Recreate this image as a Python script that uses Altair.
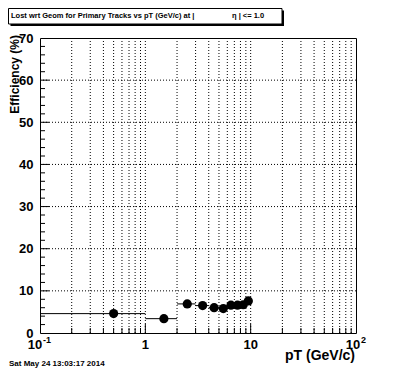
import altair as alt
import pandas as pd

# ---- data ----
pt_center = [0.5, 1.5, 2.5, 3.5, 4.5, 5.5, 6.5, 7.5, 8.5, 9.5]
pt_low = [0.1, 1, 2, 3, 4, 5, 6, 7, 8, 9]
pt_high = [1, 2, 3, 4, 5, 6, 7, 8, 9, 10]
efficiency = [4.6, 3.4, 6.9, 6.5, 6.0, 5.8, 6.6, 6.6, 6.7, 7.6]

y_labels = [0, 10, 20, 30, 40, 50, 60, 70]
y_grid = [10, 20, 30, 40, 50, 60]
y_minor = [v for v in range(2, 70, 2) if v % 10 != 0]
x_grid = [0.2, 0.3, 0.4, 0.5, 0.6, 0.7, 0.8, 0.9, 1, 2, 3, 4, 5, 6, 7, 8, 9,
          10, 20, 30, 40, 50, 60, 70, 80, 90]
x_major = [1, 10]
x_minor = [v for v in x_grid if v not in x_major]
x_label_vals = [1, 10]
x_label_text = ["1", "10"]

title_text = "Lost wrt Geom for Primary Tracks vs pT (GeV/c) at |"
title_text2 = "\u03b7 | <= 1.0"
x_title = "pT (GeV/c)"
y_title = "Efficiency (%)"
date_text = "Sat May 24 13:03:17 2014"

W, H = 316, 295
FONT = "Liberation Sans"

xs = alt.Scale(type="log", domain=[0.1, 100], nice=False)
ys = alt.Scale(domain=[0, 70], nice=False, zero=False)
yaxis = alt.Axis(values=y_labels, ticks=False, domain=False, grid=False, title=None,
                 labelFont=FONT, labelFontWeight="bold", labelFontSize=13,
                 labelColor="black", labelPadding=7)

pts = pd.DataFrame({"pt": pt_center, "lo": pt_low, "hi": pt_high, "eff": efficiency})
one = pd.DataFrame({"a": [0]})

grid_x = alt.Chart(pd.DataFrame({"v": x_grid})).mark_rule(
    color="black", strokeWidth=1, strokeDash=[1, 2]).encode(
    x=alt.X("v:Q", scale=xs, axis=None))
grid_y = alt.Chart(pd.DataFrame({"v": y_grid})).mark_rule(
    color="black", strokeWidth=1, strokeDash=[1, 2]).encode(
    y=alt.Y("v:Q", scale=ys, axis=yaxis))

tick_x_major = alt.Chart(pd.DataFrame({"v": x_major})).mark_rule(color="black").encode(
    x=alt.X("v:Q", scale=xs, axis=None), y=alt.value(H), y2=alt.value(H - 9))
tick_x_minor = alt.Chart(pd.DataFrame({"v": x_minor})).mark_rule(color="black").encode(
    x=alt.X("v:Q", scale=xs, axis=None), y=alt.value(H), y2=alt.value(H - 5))
tick_y_major = alt.Chart(pd.DataFrame({"v": y_grid})).mark_rule(color="black").encode(
    y=alt.Y("v:Q", scale=ys, axis=yaxis), x=alt.value(0), x2=alt.value(9))
tick_y_minor = alt.Chart(pd.DataFrame({"v": y_minor})).mark_rule(color="black").encode(
    y=alt.Y("v:Q", scale=ys, axis=yaxis), x=alt.value(0), x2=alt.value(5))

errbars = alt.Chart(pts).mark_rule(color="black", strokeWidth=1).encode(
    x=alt.X("lo:Q", scale=xs, axis=None), x2="hi:Q",
    y=alt.Y("eff:Q", scale=ys, axis=yaxis))
points = alt.Chart(pts).mark_point(filled=True, shape="circle", size=85,
                                   color="black", opacity=1).encode(
    x=alt.X("pt:Q", scale=xs, axis=None),
    y=alt.Y("eff:Q", scale=ys, axis=yaxis))

lab_style = dict(font=FONT, fontWeight="bold", fontSize=13, color="black",
                 baseline="middle")
xlabels = alt.Chart(pd.DataFrame({"v": x_label_vals, "t": x_label_text})).mark_text(
    align="center", **lab_style).encode(
    x=alt.X("v:Q", scale=xs, axis=None), y=alt.value(307), text="t:N")
xlab_lo = alt.Chart(pd.DataFrame({"v": [0.1], "t": ["10"]})).mark_text(
    align="center", dx=-5, **lab_style).encode(
    x=alt.X("v:Q", scale=xs, axis=None), y=alt.value(307), text="t:N")
xsup_lo = alt.Chart(pd.DataFrame({"v": [0.1], "t": ["-1"]})).mark_text(
    align="left", dx=3, font=FONT, fontWeight="bold", fontSize=9, color="black",
    baseline="middle").encode(
    x=alt.X("v:Q", scale=xs, axis=None), y=alt.value(302), text="t:N")
xlab_hi = alt.Chart(pd.DataFrame({"v": [100], "t": ["10"]})).mark_text(
    align="center", dx=-3, **lab_style).encode(
    x=alt.X("v:Q", scale=xs, axis=None), y=alt.value(307), text="t:N")
xsup_hi = alt.Chart(pd.DataFrame({"v": [100], "t": ["2"]})).mark_text(
    align="left", dx=5, font=FONT, fontWeight="bold", fontSize=9, color="black",
    baseline="middle").encode(
    x=alt.X("v:Q", scale=xs, axis=None), y=alt.value(302), text="t:N")

xtitle = alt.Chart(one).mark_text(text=x_title, align="right", baseline="middle",
                                  font=FONT, fontWeight="bold", fontSize=14,
                                  color="black").encode(
    x=alt.value(315), y=alt.value(318))
ytitle = alt.Chart(one).mark_text(text=y_title, align="right", baseline="middle",
                                  angle=270, font=FONT, fontWeight="bold",
                                  fontSize=12, color="black").encode(
    x=alt.value(-25.5), y=alt.value(-3))
date = alt.Chart(one).mark_text(text=date_text, align="left", baseline="middle",
                                font=FONT, fontWeight="bold", fontSize=8,
                                color="black").encode(
    x=alt.value(-31), y=alt.value(326))

shadow = alt.Chart(one).mark_rect(color="black").encode(
    x=alt.value(-29.5), x2=alt.value(244), y=alt.value(-27.5), y2=alt.value(-12))
box = alt.Chart(one).mark_rect(fill="white", stroke="black", strokeWidth=1).encode(
    x=alt.value(-31.5), x2=alt.value(242), y=alt.value(-29.5), y2=alt.value(-14))
ttl1 = alt.Chart(one).mark_text(text=title_text, align="left", baseline="middle",
                                font=FONT, fontWeight="bold", fontSize=7.5,
                                color="black").encode(
    x=alt.value(-29), y=alt.value(-22))
ttl2 = alt.Chart(one).mark_text(text=title_text2, align="left", baseline="middle",
                                font=FONT, fontWeight="bold", fontSize=7.5,
                                color="black").encode(
    x=alt.value(192), y=alt.value(-22))

chart = alt.layer(
    grid_x, grid_y, tick_x_major, tick_x_minor, tick_y_major, tick_y_minor,
    errbars, points, xlabels, xlab_lo, xsup_lo, xlab_hi, xsup_hi,
    xtitle, ytitle, date, shadow, box, ttl1, ttl2
).properties(
    width=W, height=H,
    autosize=alt.AutoSizeParams(type="none"),
    padding={"left": 32, "top": 30, "right": 32, "bottom": 36},
    background="white"
).configure_view(stroke="black", strokeWidth=1)

chart.save("out.html", embed_options={"renderer": "svg", "actions": False})
